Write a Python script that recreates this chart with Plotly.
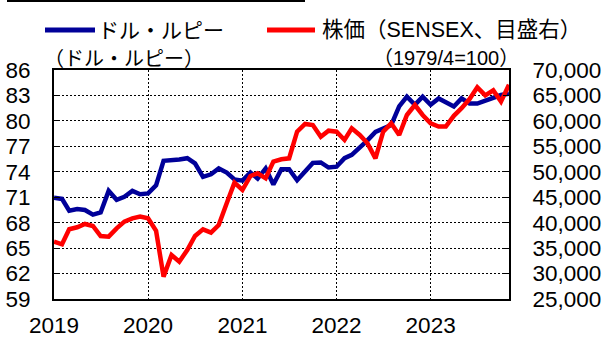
import pandas as pd
import plotly.graph_objects as go

# Monthly observations (month-end), Jan 2019 - Nov 2023
months = pd.date_range("2019-01-01", "2023-11-01", freq="MS")

usd_inr = [
    70.95, 70.8, 69.4, 69.6, 69.5, 68.95, 69.2, 71.75, 70.7, 71.05, 71.75, 71.35,
    71.45, 72.4, 75.3, 75.35, 75.45, 75.6, 75.0, 73.4, 73.7, 74.4, 73.9, 73.1,
    72.95, 73.9, 73.2, 74.4, 72.5, 74.3, 74.3, 73.0, 74.0, 75.05, 75.1, 74.5,
    74.6, 75.6, 76.0, 76.8, 77.7, 78.7, 79.1, 79.5, 81.7, 82.85, 81.9, 82.85,
    81.9, 82.65, 82.2, 81.7, 82.65, 82.05, 82.05, 82.4, 82.8, 83.05, 83.2,
]

sensex = [
    36260, 35750, 38700, 39090, 39740, 39350, 37380, 37250, 38890, 40200, 40850, 41180,
    40850, 38400, 29400, 33650, 32330, 34630, 37380, 38690, 38030, 39540, 43800, 47860,
    46420, 49170, 49700, 48720, 51990, 52450, 52640, 57880, 59390, 59190, 56900, 58080,
    57880, 56250, 58540, 57230, 55590, 52640, 57880, 59520, 57230, 61160, 63120, 61160,
    59520, 58900, 58900, 61000, 62500, 64300, 66600, 65000, 66000, 63800, 67100,
]

name_fx = "ドル・ルピー"
name_stock = "株価（SENSEX、目盛右）"
unit_left = "（ドル・ルピー）"
unit_right = "（1979/4=100）"

BLUE = "#000099"
RED = "#FF0000"

W, H = 615, 338
M = dict(l=54, r=106, t=70, b=39)


def fx(p):
    """pixel x -> paper x"""
    return (p - M["l"]) / (W - M["l"] - M["r"])


def fy(p):
    """pixel y -> paper y"""
    return (H - M["b"] - p) / (H - M["t"] - M["b"])


LATIN = "Liberation Sans, Arial, sans-serif"
JP = "Liberation Sans, Noto Sans CJK JP, sans-serif"
tick_font = dict(family=LATIN, size=22.5, color="black")

fig = go.Figure()
fig.add_trace(go.Scatter(x=months, y=usd_inr, name=name_fx, mode="lines",
                         line=dict(color=BLUE, width=4.5), yaxis="y"))
fig.add_trace(go.Scatter(x=months, y=sensex, name=name_stock, mode="lines",
                         line=dict(color=RED, width=4.5), yaxis="y2"))

grid = dict(showgrid=True, gridcolor="black", gridwidth=1, griddash="2px,2px")

fig.update_layout(
    width=W, height=H, margin=M,
    paper_bgcolor="white", plot_bgcolor="white",
    showlegend=False,
    xaxis=dict(
        type="date", range=[months[0], months[-1]],
        tick0="2019-01-01", dtick="M12", tickformat="%Y",
        showline=True, linecolor="black", linewidth=2, mirror=True,
        ticks="", tickfont=tick_font, ticklabelstandoff=5,
        automargin=False,
        **grid,
    ),
    yaxis=dict(
        range=[59, 86], tick0=59, dtick=3,
        showline=True, linecolor="black", linewidth=2,
        ticks="inside", ticklen=6, tickcolor="black", tickwidth=1,
        tickfont=tick_font, ticklabelstandoff=17, zeroline=False,
        automargin=False,
        **grid,
    ),
    yaxis2=dict(
        overlaying="y", side="right",
        range=[25000, 70000], tick0=25000, dtick=5000, tickformat=",",
        showline=True, linecolor="black", linewidth=2,
        ticks="inside", ticklen=6, tickcolor="black", tickwidth=1,
        tickfont=tick_font, ticklabelstandoff=17,
        showgrid=False, zeroline=False, automargin=False,
    ),
)

shapes = [
    # rule across the top
    dict(type="line", xref="paper", yref="paper",
         x0=fx(7), x1=fx(305), y0=fy(1), y1=fy(1),
         line=dict(color="black", width=2)),
    # legend keys
    dict(type="line", xref="paper", yref="paper",
         x0=fx(45), x1=fx(95), y0=fy(30), y1=fy(30),
         line=dict(color=BLUE, width=5)),
    dict(type="line", xref="paper", yref="paper",
         x0=fx(267), x1=fx(315), y0=fy(30), y1=fy(30),
         line=dict(color=RED, width=5)),
]

annotations = [
    dict(text=name_fx, x=fx(96), y=fy(30), xanchor="left", yanchor="middle",
         font=dict(family=JP, size=21, color="black")),
    dict(text=name_stock, x=fx(320), y=fy(30), xanchor="left", yanchor="middle",
         font=dict(family=JP, size=21.5, color="black")),
    dict(text=unit_left, x=fx(42), y=fy(59), xanchor="left", yanchor="middle",
         font=dict(family=JP, size=20, color="black")),
    dict(text=unit_right, x=fx(521), y=fy(58), xanchor="right", yanchor="middle",
         font=dict(family=JP, size=20, color="black")),
]
for a in annotations:
    a.update(xref="paper", yref="paper", showarrow=False)

fig.update_layout(shapes=shapes, annotations=annotations)

fig.write_html("out.html")
